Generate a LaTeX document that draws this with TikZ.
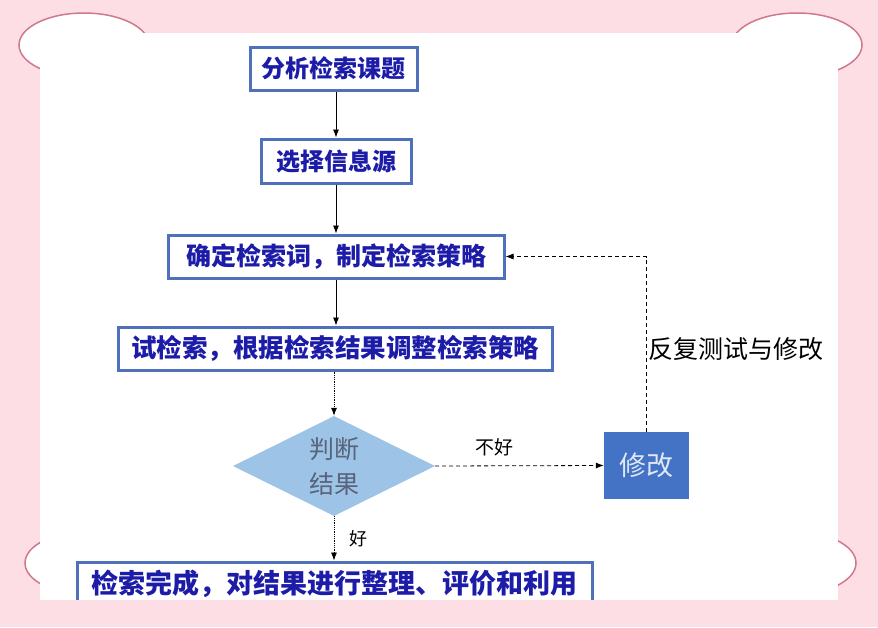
\documentclass[tikz,border=0pt]{standalone}
\usepackage{fontspec}
\setmainfont{Noto Sans CJK SC}
\usetikzlibrary{shapes.geometric,arrows.meta}
\definecolor{pinkbg}{RGB}{252,222,228}
\definecolor{cloudline}{RGB}{208,120,142}
\definecolor{boxline}{RGB}{79,113,188}
\definecolor{boxtext}{RGB}{28,28,168}
\definecolor{diafill}{RGB}{157,195,230}
\definecolor{diatext}{RGB}{88,100,122}
\definecolor{modfill}{RGB}{68,114,196}
\definecolor{modtext}{RGB}{222,232,246}
\tikzset{
  stepbox/.style={draw=boxline, line width=3pt, fill=white, inner sep=0pt,
    text=boxtext, font=\fontsize{24}{28}\selectfont\bfseries, anchor=center},
  solidarrow/.style={-{Latex[length=8pt,width=6pt]}, line width=0.8pt, black},
  dotarrow/.style={-{Latex[length=8pt,width=6pt]}, line width=0.8pt, black, densely dotted},
  dasharrow/.style={-{Latex[length=8pt,width=6pt]}, line width=0.8pt, black, dash pattern=on 4pt off 3pt},
  cloud/.style={fill=white, draw=cloudline, line width=1.5pt},
}
\begin{document}
\begin{tikzpicture}[x=1pt,y=-1pt]
\useasboundingbox (0,0) rectangle (878,627);
% background
\fill[pinkbg] (0,0) rectangle (878,627);
\draw[cloud] (84,45) ellipse [x radius=65, y radius=32];
\draw[cloud] (797,45) ellipse [x radius=65, y radius=32];
\draw[cloud] (90,563) ellipse [x radius=65, y radius=32];
\draw[cloud] (791,563) ellipse [x radius=65, y radius=32];
\fill[white] (40,33) rectangle (838,600);

% boxes
\node[stepbox, minimum width=167pt, minimum height=43pt] (b1) at (333.5,68.5) {分析检索课题};
\node[stepbox, minimum width=150pt, minimum height=44pt] (b2) at (336,161) {选择信息源};
\node[stepbox, minimum width=336pt, minimum height=43pt, font=\fontsize{25}{28}\selectfont\bfseries] (b3) at (336,256.5) {确定检索词，制定检索策略};
\node[stepbox, minimum width=434pt, minimum height=43pt, font=\fontsize{25.5}{28}\selectfont\bfseries] (b4) at (335,348.5) {试检索，根据检索结果调整检索策略};
\node[diamond, fill=diafill, aspect=2, inner sep=0pt, minimum width=202pt, minimum height=100pt] (dm) at (334,466) {};
\node[text=diatext, font=\fontsize{25}{35}\selectfont, align=center] (dmt) at (dm.center) {判断\\结果};
\node[fill=modfill, minimum width=85pt, minimum height=67pt, inner sep=0pt, text=modtext, font=\fontsize{27}{30}\selectfont] (xg) at (646.5,465.5) {修改};
\node[stepbox, minimum width=515pt, minimum height=43pt, font=\fontsize{27}{30}\selectfont\bfseries] (b5) at (334.5,583.5) {检索完成，对结果进行整理、评价和利用};

% connectors
\draw[solidarrow] (b1.south -| 336,0) -- (b2.north);
\draw[solidarrow] (b2.south) -- (b3.north);
\draw[solidarrow] (b3.south) -- (b4.north -| b3.south);
\draw[dotarrow] (b4.south -| dm.north) -- (dm.north);
\draw[dotarrow] (dm.south) -- (b5.north -| dm.south) node[pos=0.5, right=12pt, font=\fontsize{18}{20}\selectfont, text=black] (lh) {好};
\draw[dasharrow] (dm.east) -- (xg.west) node[pos=0.35, above=6pt, font=\fontsize{19}{21}\selectfont, text=black] (lbh) {不好};
\draw[dasharrow] (xg.north) |- (b3.east);
\node[font=\fontsize{25}{27}\selectfont, text=black] (lfx) at (736,349) {反复测试与修改};

% cut bottom
\fill[pinkbg] (0,600) rectangle (878,627);
\end{tikzpicture}
\end{document}
